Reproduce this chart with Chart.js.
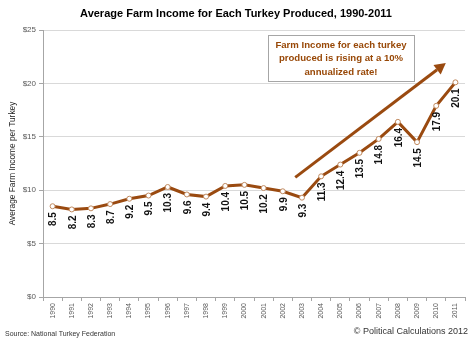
<!DOCTYPE html>
<html><head><meta charset="utf-8">
<script src="https://cdn.jsdelivr.net/npm/chart.js@4/dist/chart.umd.min.js"></script>
<style>html,body{margin:0;padding:0;background:#fff}canvas{display:block}</style>
</head><body>
<canvas id="c" width="474" height="343"></canvas>
<script>
const years = ['1990','1991','1992','1993','1994','1995','1996','1997','1998','1999','2000','2001','2002','2003','2004','2005','2006','2007','2008','2009','2010','2011'];
const income = [8.5,8.2,8.3,8.7,9.2,9.5,10.3,9.6,9.4,10.4,10.5,10.2,9.9,9.3,11.3,12.4,13.5,14.8,16.4,14.5,17.9,20.1];
const yTicks = [0,5,10,15,20,25];
const titleText = 'Average Farm Income for Each Turkey Produced, 1990-2011';
const yTitle = 'Average Farm Income per Turkey';
const noteLines = ['Farm Income for each turkey','produced is rising at a 10%','annualized rate!'];
const arrowFrom = [12.65, 11.2];
const arrowTo = [20.5, 21.9];
const sourceText = 'Source: National Turkey Federation';
const creditText = '\u00A9 Political Calculations 2012';

const BROWN = '#9a4a10';
const FONT = '"Liberation Sans", Arial, sans-serif';

const extras = {
  id: 'extras',
  afterDatasetsDraw(chart) {
    const ctx = chart.ctx, xs = chart.scales.x, ys = chart.scales.y, area = chart.chartArea;
    ctx.save();
    // x labels rotated -90
    ctx.fillStyle = '#595959';
    ctx.font = '7px ' + FONT;
    years.forEach((yr, i) => {
      const x = xs.getPixelForValue(i);
      ctx.save();
      ctx.translate(x, area.bottom + 6);
      ctx.rotate(-Math.PI / 2);
      ctx.textAlign = 'right';
      ctx.textBaseline = 'middle';
      ctx.fillText(yr, 0, 0);
      ctx.restore();
    });
    // data labels
    ctx.fillStyle = '#111';
    ctx.font = 'bold 10px ' + FONT;
    const meta = chart.getDatasetMeta(0);
    meta.data.forEach((pt, i) => {
      ctx.save();
      ctx.translate(pt.x + 1, pt.y + 6);
      ctx.rotate(-Math.PI / 2);
      ctx.textAlign = 'right';
      ctx.textBaseline = 'middle';
      ctx.fillText(String(income[i]), 0, 0);
      ctx.restore();
    });
    // arrow
    const x1 = xs.getPixelForValue(arrowFrom[0]), y1 = ys.getPixelForValue(arrowFrom[1]);
    const x2 = xs.getPixelForValue(arrowTo[0]), y2 = ys.getPixelForValue(arrowTo[1]);
    const ang = Math.atan2(y2 - y1, x2 - x1);
    const hl = 11, hw = 6;
    const bx = x2 - hl * Math.cos(ang), by = y2 - hl * Math.sin(ang);
    ctx.strokeStyle = BROWN; ctx.fillStyle = BROWN; ctx.lineWidth = 3;
    ctx.beginPath(); ctx.moveTo(x1, y1); ctx.lineTo(bx, by); ctx.stroke();
    ctx.beginPath();
    ctx.moveTo(x2, y2);
    ctx.lineTo(bx + hw * Math.sin(ang), by - hw * Math.cos(ang));
    ctx.lineTo(bx - hw * Math.sin(ang), by + hw * Math.cos(ang));
    ctx.closePath(); ctx.fill();
    // note box
    const bxL = 268, bxT = 35, bxW = 146, bxH = 46;
    ctx.fillStyle = '#fff';
    ctx.fillRect(bxL, bxT, bxW, bxH);
    ctx.strokeStyle = '#a6a6a6'; ctx.lineWidth = 1;
    ctx.strokeRect(bxL + 0.5, bxT + 0.5, bxW, bxH);
    ctx.fillStyle = '#984807';
    ctx.font = 'bold 9.6px ' + FONT;
    ctx.textAlign = 'center'; ctx.textBaseline = 'middle';
    noteLines.forEach((l, i) => ctx.fillText(l, bxL + bxW / 2, bxT + 10 + i * 13.5));
    // title
    ctx.fillStyle = '#000';
    ctx.font = 'bold 11px ' + FONT;
    ctx.fillText(titleText, 236, 14);
    // footer
    ctx.textAlign = 'left';
    ctx.fillStyle = '#333';
    ctx.font = '7px ' + FONT;
    ctx.fillText(sourceText, 5, 334);
    ctx.textAlign = 'right';
    ctx.font = '9px ' + FONT;
    ctx.fillText(creditText, 468, 332);
    ctx.restore();
  }
};

new Chart(document.getElementById('c'), {
  type: 'line',
  data: {
    labels: years,
    datasets: [{
      data: income,
      borderColor: BROWN,
      borderWidth: 3,
      backgroundColor: '#fff',
      pointBackgroundColor: '#fff',
      pointBorderColor: '#c08a60',
      pointBorderWidth: 1,
      pointRadius: 2.5,
      tension: 0,
      fill: false
    }]
  },
  options: {
    responsive: false,
    animation: false,
    devicePixelRatio: 1,
    layout: { padding: { top: 30, right: 9, left: 0, bottom: 20 } },
    plugins: { legend: { display: false }, tooltip: { enabled: false }, title: { display: false } },
    scales: {
      x: {
        type: 'category',
        offset: true,
        afterFit(s) { s.height = 26; },
        grid: { offset: true, drawOnChartArea: false, drawTicks: true, tickLength: 4, tickColor: '#a6a6a6' },
        border: { display: true, color: '#a6a6a6' },
        ticks: { color: 'rgba(0,0,0,0)', font: { size: 7 }, autoSkip: false, maxRotation: 0 }
      },
      y: {
        min: 0, max: 25,
        afterFit(s) { s.width = 43; },
        afterBuildTicks(s) { s.ticks = yTicks.map(v => ({ value: v })); },
        grid: { color: '#d9d9d9', tickLength: 4, tickColor: '#a6a6a6' },
        border: { display: true, color: '#a6a6a6' },
        ticks: { color: '#595959', font: { size: 8, family: FONT }, padding: 3, callback: v => '$' + v },
        title: { display: true, text: yTitle, color: '#222', font: { size: 8.3, family: FONT }, padding: { top: 8, bottom: 0 } }
      }
    }
  },
  plugins: [extras]
});
</script>
</body></html>
